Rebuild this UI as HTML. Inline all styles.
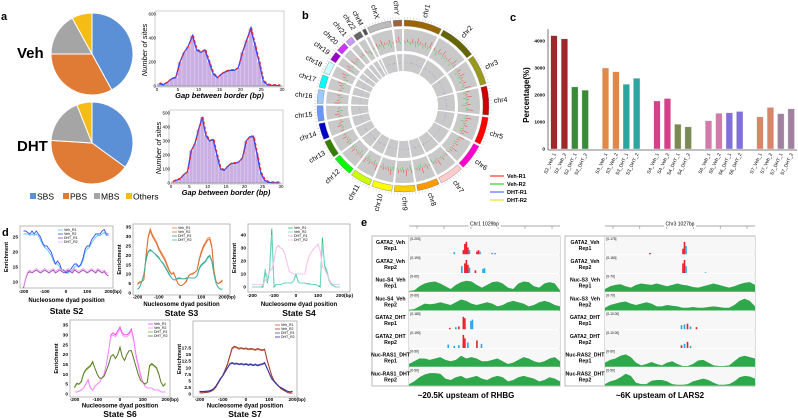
<!DOCTYPE html>
<html><head><meta charset="utf-8"><style>
html,body{margin:0;padding:0;background:#fff;width:798px;height:418px;overflow:hidden}
svg{display:block;font-family:"Liberation Sans",Arial,sans-serif}
</style></head><body>
<svg id="fig" width="798" height="418" viewBox="0 0 798 418">
<g font-weight="bold" font-size="11">
<text x="1" y="20">a</text>
<text x="302" y="19">b</text>
<text x="510" y="21">c</text>
<text x="2" y="236">d</text>
<text x="361" y="226">e</text>
</g>
<text x="17" y="58" font-size="15" font-weight="bold">Veh</text>
<text x="17" y="151" font-size="15" font-weight="bold">DHT</text>
</svg>
<script>
// ---------- DATA ----------
const pieCats=['SBS','PBS','MBS','Others'];
const pieColors=['#5b8fd6','#e07b35','#a5a5a5','#f5bc16'];
const pieVeh=[42,33,17,8];
const pieDHT=[35,41,18,6];
const histVeh=[20,10,30,60,70,200,280,330,420,300,280,300,200,100,70,100,120,130,130,150,280,380,480,340,200,40,10,5,5,2];
const histDHT=[10,20,30,60,80,230,280,380,470,340,300,310,200,100,90,120,140,140,150,180,300,330,330,200,70,20,5,2,2,1];
const histVehTicks=[0,200,400,600];
const histDHTTicks=[0,100,200,300,400,500];
const histXTicks=[0,5,10,15,20,25,30];
const chrNames=['chr1','chr2','chr3','chr4','chr5','chr6','chr7','chr8','chr9','chr10','chr11','chr12','chr13','chr14','chr15','chr16','chr17','chr18','chr19','chr20','chr21','chr22','chrM','chrX','chrY'];
const chrSizes=[249,242,198,190,181,171,159,145,138,134,135,133,114,107,102,90,83,80,59,64,47,51,22,156,57];
const chrColors=['#996600','#666600','#99991e','#cc0000','#ff0000','#ff00cc','#ffcccc','#ff9900','#ffcc00','#ffff00','#ccff00','#00ff00','#358000','#0000cc','#6699ff','#99ccff','#00ffff','#ccffff','#9900cc','#cc33ff','#cc99ff','#666666','#555555','#bbbbbb','#99663f'];
const spikeR1=[3,6,2,9,4,12,5,3,8,2,14,6,4,7,3,10,5,2,6,11];
const spikeR2=[4,2,7,3,10,5,2,8,4,6,3,9,2,5,12,4,3,7,5,2];
const cCats=['S2_Veh_1','S2_Veh_2','S2_DHT_1','S2_DHT_2','S3_Veh_1','S3_Veh_2','S3_DHT_1','S3_DHT_2','S4_Veh_1','S4_Veh_2','S4_DHT_1','S4_DHT_2','S6_Veh_1','S6_Veh_2','S6_DHT_1','S6_DHT_2','S7_Veh_1','S7_Veh_2','S7_DHT_1','S7_DHT_2'];
const cVals=[4200,4080,2300,2180,3000,2860,2400,2620,1780,1870,920,820,1050,1320,1340,1390,1190,1540,1310,1490];
const cColors=['#a0282d','#a0282d','#3a8a3a','#3a8a3a','#e0884a','#e0884a','#2aa5a0','#2aa5a0','#d4418a','#d4418a','#7a8a55','#7a8a55','#d47aaa','#d47aaa','#8070d8','#8070d8','#d8866a','#d8866a','#a081a0','#a081a0'];
const cTicks=[0,1000,2000,3000,4000];
const dPos=[-200,-190,-180,-170,-160,-150,-140,-130,-120,-110,-100,-90,-80,-70,-60,-50,-40,-30,-20,-10,0,10,20,30,40,50,60,70,80,90,100,110,120,130,140,150,160,170,180,190,200];
const s2Veh1=[27,27,26.5,26,27,26,27,26,25,23,22,22,21,20,18,16,17,16,14,14,13,13.5,14,15,16,16,15,16,18,21,22,22,24,25,26,26,26,27,27.5,26,26];
const s2Veh2=[26,26,26,25.5,26,25.5,26,25.5,24,22.5,21.5,21,20,19,17,16,16,15,14,13.5,13,13,13.5,14,15,15.5,15,15.5,17,20,21,21.5,23,24,25,25.5,25.5,26,26.5,25.5,25.5];
const s2DHT1=[8,11,13,13.5,13,13.5,14,13.5,13,13.5,14,13.5,13,13.5,14,13,13.5,14,13.5,13,13.5,14,13.5,13,14,13.5,13,13.5,14,13.5,13,13.5,14,13.5,13,14,13.5,13,13.5,12.5,12];
const s2DHT2=[8.5,11.5,13.5,14,13.5,14,14.5,14,13.5,14,14.5,14,13.5,14,14.5,13.5,14,14.5,14,13.5,14,14.5,14,13.5,14.5,14,13.5,14,14.5,14,13.5,14,14.5,14,13.5,14.5,14,13.5,14,13,13];
const s3Veh1=[5,6,6,7,20,30,34,31,29,27,24,22,20,18,15,12,10,11,8,5,4,4,5,6,9,10,10,11,12,18,22,25,27,29,29.5,25,12,6,5,6,7];
const s3Veh2=[4.5,5.5,6,7,19,29,33,30,28,26,23,21,19,17,14,11.5,10,10.5,8,5,4,4,5,6.5,9,10,10.5,11,12,17,21,24,26,28,28.5,24,11,6,5,5.5,6.5];
const s3DHT1=[2,3,6,10,18,22,23,22,21,20,19,17,16,14,12,10,8,7,7,8,8,7.5,7.5,8,8,8,8,8,9,13,15,16,17,19,20,17,10,5,3,2,2];
const s3DHT2=[2,3,6,10,17,21.5,22.5,22,21,19.5,18.5,17,15.5,13.5,11.5,9.5,8,7,7,7.5,7.5,7.5,7.5,7.5,8,8,8,8,9,12.5,14.5,15.5,16.5,18.5,19.5,16.5,10,5,3,2,2];
const s4Veh1=[0,0,0,0,0,0,12,3,14,45,0,2,2,2,2.5,3,3,3,3,5,10,4,3,3,3,2.5,2.5,2,2,2,1,0,38,16,12,5,2,1,0,0,0];
const s4Veh2=[0,0,0,0,0,1,14,4,12,40,1,2,2,2,2.5,3,3,3,3,5,9,4,3,3,3,2.5,2.5,2,2,2,1,1,34,17,13,6,2,1,0,0,0];
const s4DHT1=[2,2,2,2,2,2,5,8,12,14,20,30,32,30,29,25,18,12,11,10,10,10,10,10,10,18,24,27,29,31,33,28,15,14,10,6,3,2,2,2,2];
const s4DHT2=[2,2,2,2,2,2,5,8,12,14,20,30,31.5,30,29,25,18,12,11,10,10,10,10,10,10,18,24,27,29,31,32.5,28,15,14,10,6,3,2,2,2,2];
const s6Veh1=[1,1,1.5,2,3,5,7,3,2,4,5,6,8,10,15,22,30,31,30,32,34,31,30,30,31,33,28,20,15,10,6,4,3,3,3,2,2,2,1,1,1];
const s6Veh2=[1,1,1.5,2,3,5,7.5,3,2,4,5,6,8,10,15,22,29,30,29,31,33,30,29,29,30,32,27,19,14,9,6,4,3,3,3,2,2,2,1,1,1];
const s6DHT1=[3,5,5,6,10,12,13,14,16,13,10,8,8,9,12,15,19,20,18,20,24,19,17,20,22,22,18,14,10,7,6,5,6,14,15,14,13,10,6,4,5];
const s6DHT2=[3.5,5.5,5,6.5,10.5,12.5,13.5,14.5,16.5,13,10,8,8,9,12,15,19,20,18,20,23.5,19,17,20,22,22,18,14,10,7,6,5,6,14.5,15.5,14.5,13.5,10.5,6,4,5.5];
const s7Veh1=[0.5,0.5,0.5,0.6,0.7,1,1.5,2.5,4,5.5,7,9,11,14,17,17.8,17.5,17,17.3,17,17.2,16.8,17,16.9,16.6,17,16.7,16.5,16.8,13,10,7,5,4,3,2,1.5,1,0.5,0.3,0.3];
const s7Veh2=[0.4,0.4,0.5,0.6,0.8,1.1,1.6,2.6,4.1,5.6,7.2,9.2,11.5,14.5,17.5,18.2,17.8,17.4,17.6,17.3,17.5,17.1,17.3,17.2,16.9,17.3,17,16.8,17.1,13.3,10.2,7.2,5.2,4.1,3.1,2.1,1.5,1,0.6,0.4,0.4];
const s7DHT1=[1,1,1,1.1,1.2,1.5,2,3,4.5,6,7,8.5,10,11.5,12,11.6,11.8,11.4,11.7,11.3,11.6,11.2,11.5,11.1,11.4,11,11.3,11.5,12,10,8,6,5,4,3,2.5,2,1.5,1,0.8,1];
const s7DHT2=[0.9,0.9,0.9,1,1.1,1.4,1.9,2.9,4.3,5.8,6.8,8.3,9.8,11.2,11.7,11.3,11.5,11.1,11.4,11,11.3,10.9,11.2,10.8,11.1,10.7,11,11.2,11.7,9.8,7.8,5.8,4.8,3.8,2.9,2.4,1.9,1.4,1,0.8,1.1];
const dXTicks=[-200,-100,0,100,200];
const eLeftNames=[['GATA2_Veh','Rep1'],['GATA2_Veh','Rep2'],['Nuc-S4_Veh','Rep1'],['Nuc-S4_Veh','Rep2'],['GATA2_DHT','Rep1'],['GATA2_DHT','Rep2'],['Nuc-RAS1_DHT','Rep1'],['Nuc-RAS1_DHT','Rep2']];
const eRightNames=[['GATA2_Veh','Rep1'],['GATA2_Veh','Rep2'],['Nuc-S3_Veh','Rep1'],['Nuc-S3_Veh','Rep2'],['GATA2_DHT','Rep1'],['GATA2_DHT','Rep2'],['Nuc-RAS2_DHT','Rep1'],['Nuc-RAS2_DHT','Rep2']];
const eLeftRanges=['[0-200]','[0-190]','[0-60]','[0-60]','[0-180]','[0-190]','[0-50]','[0-50]'];
const eRightRanges=['[0-175]','[0-160]','[0-70]','[0-70]','[0-10.00]','[0-10.00]','[0-60]','[0-50]'];
const L_nuc1=[0.05,0.1,0.4,0.6,0.7,0.75,0.6,0.4,0.2,0.5,0.7,0.8,0.75,0.5,0.3,0.5,0.7,0.75,0.6,0.3,0.2,0.6,0.75,0.7,0.4,0.3,0.6,0.7,0.6,0.1];
const L_nuc2=[0.05,0.1,0.3,0.5,0.45,0.5,0.6,0.5,0.4,0.6,0.8,0.7,0.5,0.4,0.5,0.6,0.5,0.3,0.4,0.6,0.7,0.6,0.5,0.3,0.4,0.6,0.7,0.6,0.4,0.3];
const L_ras1=[0.2,0.4,0.6,0.6,0.5,0.6,0.7,0.5,0.4,0.5,0.8,0.6,0.7,0.6,0.4,0.4,0.5,0.6,0.4,0.2,0.3,0.5,0.7,0.6,0.4,0.3,0.4,0.6,0.7,0.4];
const L_ras2=[0.1,0.3,0.6,0.8,0.9,0.9,0.85,0.5,0.4,0.6,0.7,0.5,0.6,0.7,0.5,0.4,0.6,0.7,0.6,0.3,0.4,0.6,0.7,0.6,0.5,0.3,0.4,0.6,0.5,0.3];
const R_nuc1=[0.2,0.4,0.5,0.55,0.4,0.3,0.5,0.6,0.55,0.5,0.6,0.5,0.4,0.5,0.6,0.5,0.45,0.35,0.3,0.4,0.5,0.6,0.5,0.4,0.3,0.4,0.55,0.65,0.7,0.5];
const R_nuc2=[0.2,0.4,0.5,0.6,0.65,0.5,0.4,0.5,0.6,0.5,0.3,0.3,0.4,0.35,0.3,0.2,0.2,0.25,0.2,0.2,0.25,0.3,0.25,0.2,0.2,0.4,0.7,0.85,0.7,0.3];
const R_ras1=[0.3,0.5,0.6,0.8,0.9,0.7,0.3,0.1,0.2,0.35,0.2,0.1,0.3,0.4,0.2,0.05,0.05,0.2,0.45,0.5,0.3,0.1,0.05,0.05,0.1,0.4,0.7,0.8,0.7,0.6];
const R_ras2=[0.1,0.3,0.4,0.6,0.85,0.7,0.2,0.1,0.1,0.35,0.4,0.4,0.3,0.1,0.05,0.05,0.1,0.3,0.4,0.5,0.4,0.2,0.05,0.05,0.1,0.3,0.6,0.7,0.65,0.5];
const LpkV1=[[0.3,0.15,'b'],[0.36,0.3,'r'],[0.37,0.75,'r'],[0.38,0.9,'r'],[0.39,0.5,'r'],[0.4,0.3,'b'],[0.45,0.2,'r'],[0.46,0.3,'r'],[0.47,0.2,'b'],[0.55,0.1,'b'],[0.57,0.1,'b']];
const LpkV2=[[0.35,0.5,'b'],[0.37,0.7,'r'],[0.38,0.95,'r'],[0.39,0.6,'r'],[0.4,0.4,'b'],[0.44,0.2,'r'],[0.49,0.3,'b'],[0.5,0.35,'b']];
const LpkD1=[[0.27,0.1,'r'],[0.31,0.15,'b'],[0.33,0.2,'r'],[0.36,0.9,'r'],[0.37,0.8,'r'],[0.41,0.6,'b'],[0.42,0.7,'b']];
const LpkD2=[[0.26,0.25,'b'],[0.3,0.15,'b'],[0.33,0.2,'b'],[0.36,0.95,'r'],[0.37,0.7,'r'],[0.39,0.4,'b'],[0.45,0.55,'r'],[0.48,0.3,'b']];
const RpkV1=[[0.3,0.1,'r'],[0.52,0.4,'r'],[0.53,0.9,'r'],[0.54,0.6,'b']];
const RpkV2=[[0.52,0.7,'r'],[0.53,0.95,'r'],[0.54,0.5,'b'],[0.67,0.05,'b']];
const RpkD1=[[0.51,0.3,'b'],[0.53,0.35,'b'],[0.55,0.4,'r'],[0.57,0.2,'b'],[0.61,0.15,'r']];
const RpkD2=[[0.51,0.2,'r'],[0.53,0.3,'b'],[0.55,0.45,'r'],[0.57,0.15,'b']];

// ---------- HELPERS ----------
const NS='http://www.w3.org/2000/svg';
const svg=document.getElementById('fig');
function mk(tag,attrs,parent){const e=document.createElementNS(NS,tag);for(const k in attrs)e.setAttribute(k,attrs[k]);(parent||svg).appendChild(e);return e;}
function txt(x,y,s,attrs,parent){const e=mk('text',Object.assign({x:x,y:y},attrs||{}),parent);e.textContent=s;return e;}
function pt(cx,cy,r,a){return [cx+r*Math.sin(a),cy-r*Math.cos(a)];}
function arc(cx,cy,r0,r1,a0,a1){const l=(a1-a0)>Math.PI?1:0;const p1=pt(cx,cy,r1,a0),p2=pt(cx,cy,r1,a1),p3=pt(cx,cy,r0,a1),p4=pt(cx,cy,r0,a0);
 if(r0<=0)return `M${cx},${cy}L${p1}A${r1},${r1} 0 ${l} 1 ${p2}Z`;
 return `M${p1}A${r1},${r1} 0 ${l} 1 ${p2}L${p3}A${r0},${r0} 0 ${l} 0 ${p4}Z`;}

// ---------- PANEL A: pies ----------
function pie(cx,cy,r,vals,name){const g=mk('g',{});
 
 
 const tot=vals.reduce((a,b)=>a+b,0);let a=0;
 vals.forEach((v,i)=>{const a1=a+v/tot*2*Math.PI;const p=mk('path',{d:arc(cx,cy,0,r,a,a1),fill:pieColors[i],stroke:'#fff','stroke-width':1},g);
  
  
  a=a1;});}
pie(92,54,41,pieVeh,'veh-pie');
pie(92,143,41,pieDHT,'dht-pie');
const lg=mk('g',{});


[30,63,94,126].forEach((x,i)=>{mk('rect',{x:x,y:193,width:6,height:6,fill:pieColors[i]},lg);const t=txt(x+7,199.5,pieCats[i],{'font-size':8.5},lg);
 
 });

// ---------- PANEL A: histograms ----------
function hist(vals,ticks,x0,x1,y0,ymax,ytop,name){const g=mk('g',{});
 
 
 const xs=v=>x0+(x1-x0)*v/30, ys=v=>y0-(y0-ytop)*v/ymax;
 mk('rect',{x:x0-2,y:ytop-3,width:x1-x0+4,height:y0-ytop+4,fill:'none',stroke:'#bbb','stroke-width':0.7},g);
 vals.forEach((v,i)=>{const b=mk('rect',{x:xs(i),y:ys(v),width:xs(1)-xs(0),height:y0-ys(v),fill:'#c9afe3',stroke:'#e6dcef','stroke-width':0.4},g);
  
  });
 let d='';vals.forEach((v,i)=>{d+=(i?'L':'M')+xs(i+0.5)+','+ys(v);});
 const bl=mk('path',{d:d,fill:'none',stroke:'#2e4bff','stroke-width':1.3},g);
 
 
 const rl=mk('path',{d:d,fill:'none',stroke:'#ff2020','stroke-width':1,'stroke-dasharray':'3,2',transform:'translate(0.6,-0.8)'},g);
 
 
 mk('line',{x1:x0,y1:y0,x2:x1,y2:y0,stroke:'#666','stroke-width':0.5},g);
 ticks.forEach(t=>{txt(x0-1,ys(t)+1.5,String(t),{'font-size':4.5,'text-anchor':'end'},g);});
 histXTicks.forEach(t=>{txt(xs(t),y0+5,String(t),{'font-size':4.5,'text-anchor':'middle'},g);});
 txt(x0+(x1-x0)/2,y0+12,'Gap between border (bp)',{'font-size':7.5,'font-style':'italic','font-weight':'bold','text-anchor':'middle'},g);
 txt(0,0,'Number of sites',{'font-size':7.5,'font-style':'italic','text-anchor':'middle',transform:`translate(${x0-10},${(y0+ytop)/2}) rotate(-90)`},g);}
hist(histVeh,histVehTicks,157,282,86,600,14,'veh-histogram');
hist(histDHT,histDHTTicks,171,281,183,500,113,'dht-histogram');

// ---------- PANEL B: circos ----------
(function(){const cx=403,cy=106;const g=mk('g',{});
 
 
 const gap=1.6*Math.PI/180;const tot=chrSizes.reduce((a,b)=>a+b,0);const avail=2*Math.PI-gap*chrSizes.length;
 let a=gap/2;
 chrSizes.forEach((s,i)=>{const a1=a+s/tot*avail;
  const c=mk('path',{d:arc(cx,cy,80,86,a,a1),fill:chrColors[i],stroke:'#777','stroke-width':0.4},g);
  
  
  mk('path',{d:arc(cx,cy,55,77,a,a1),fill:'#c9c9c9'},g);
  mk('path',{d:arc(cx,cy,35,52,a,a1),fill:'#c9c9c9'},g);
  for(let t=a;t<a1;t+=0.035){const p1=pt(cx,cy,87,t),p2=pt(cx,cy,89,t);mk('line',{x1:p1[0],y1:p1[1],x2:p2[0],y2:p2[1],stroke:'#999','stroke-width':0.3},g);}
  let k=0;for(let t=a+0.015;t<a1-0.01;t+=0.04){const h1=spikeR1[(k+i)%20]*0.45,h2=spikeR2[(k+i*3)%20]*0.4;
   let p1=pt(cx,cy,64,t),p2=pt(cx,cy,64+h1,t);mk('line',{x1:p1[0],y1:p1[1],x2:p2[0],y2:p2[1],stroke:'#ff3030','stroke-width':0.5},g);
   p1=pt(cx,cy,64,t+0.015);p2=pt(cx,cy,64-h2,t+0.015);mk('line',{x1:p1[0],y1:p1[1],x2:p2[0],y2:p2[1],stroke:'#30d030','stroke-width':0.5},g);
   p1=pt(cx,cy,43,t);p2=pt(cx,cy,43+h2*0.2,t);mk('line',{x1:p1[0],y1:p1[1],x2:p2[0],y2:p2[1],stroke:'#6a7aff','stroke-width':0.6},g);
   k++;}
  const m=(a+a1)/2;const deg=m*180/Math.PI;const p=pt(cx,cy,91,m);
  let tr,anchor;if(deg<180){tr=`translate(${p[0]},${p[1]}) rotate(${deg-90})`;anchor='start';}else{tr=`translate(${p[0]},${p[1]}) rotate(${deg+90})`;anchor='end';}
  const lbl=txt(0,2.5,chrNames[i],{'font-size':7,'text-anchor':anchor,transform:tr},g);
  
  
  a=a1+gap;});
 const leg=[['Veh-R1','#ff3030'],['Veh-R2','#30d030'],['DHT-R1','#5a6aff'],['DHT-R2','#f0e020']];
 leg.forEach((l,i)=>{const y=176+i*8;mk('line',{x1:490,y1:y,x2:504,y2:y,stroke:l[1],'stroke-width':1.2},g);
  const t=txt(507,y+2,l[0],{'font-size':5.5,'font-weight':'bold'},g);
  
  });})();

// ---------- PANEL C: bar chart ----------
(function(){const g=mk('g',{});
 
 
 const y0=149,k=27/1000;const ys=v=>y0-v*k;const xs=i=>554+Math.floor(i/4)*51.5+(i%4)*10.4;
 cVals.forEach((v,i)=>{const b=mk('rect',{x:xs(i)-3.3,y:ys(v),width:6.6,height:v*k,fill:cColors[i],stroke:'#eee','stroke-width':0.4},g);
  
  
  txt(0,0,cCats[i],{'font-size':4.8,'text-anchor':'end',transform:`translate(${xs(i)+2},${y0+5}) rotate(-65)`},g);});
 mk('line',{x1:548,y1:29,x2:548,y2:y0+1,stroke:'#555','stroke-width':0.8},g);
 mk('line',{x1:548,y1:y0+1,x2:797,y2:y0+1,stroke:'#555','stroke-width':0.8},g);
 cTicks.forEach(t=>{txt(545,ys(t)+1.7,String(t),{'font-size':4.8,'font-weight':'bold','text-anchor':'end'},g);});
 const yl=txt(0,0,'Percentage(%)',{'font-size':8,'font-weight':'bold','text-anchor':'middle',transform:'translate(529,95) rotate(-90)'},g);
 
 })();

// ---------- PANEL D: profiles ----------
function prof(cfg){const g=mk('g',{});
 
 
 const xs=v=>cfg.x0+v*cfg.kx, ys=v=>cfg.y0-v*cfg.ky;
 const o=cfg.off||[5,11,22];
 mk('rect',{x:cfg.fx,y:cfg.fy,width:cfg.fw,height:cfg.fh,fill:'#fff',stroke:'#aaa','stroke-width':0.8},g);
 cfg.series.forEach((s,si)=>{let d='';s.vals.forEach((v,i)=>{d+=(i?'L':'M')+xs(dPos[i]).toFixed(2)+','+ys(v).toFixed(2);});
  const p=mk('path',{d:d,fill:'none',stroke:s.c,'stroke-width':0.9},g);
  
  
  const ly=cfg.fy+4+si*4;mk('line',{x1:cfg.lx,y1:ly,x2:cfg.lx+5,y2:ly,stroke:s.c,'stroke-width':0.8},g);
  txt(cfg.lx+6,ly+1.2,s.n,{'font-size':3.5},g);});
 cfg.yt.forEach(t=>{txt(cfg.fx-2,ys(t)+1.6,String(t),{'font-size':4.8,'font-weight':'bold','text-anchor':'end'},g);});
 dXTicks.forEach(t=>{txt(xs(t),cfg.fy+cfg.fh+o[0],t===200?'200(bp)':String(t),{'font-size':4.8,'font-weight':'bold','text-anchor':t===200?'start':'middle',dx:t===200?-4:0},g);});
 txt(cfg.fx+cfg.fw/2,cfg.fy+cfg.fh+o[1],'Nucleosome dyad position',{'font-size':6,'font-weight':'bold','text-anchor':'middle'},g);
 txt(0,0,'Enrichment',{'font-size':5.5,'font-weight':'bold','text-anchor':'middle',transform:`translate(${cfg.fx-12},${cfg.fy+cfg.fh/2}) rotate(-90)`},g);
 const t=txt(cfg.fx+cfg.fw/2,cfg.fy+cfg.fh+o[2],cfg.title,{'font-size':8.5,'font-weight':'bold','text-anchor':'middle'},g);
 
 }
prof({title:'State S2',fx:20,fy:226,fw:93,fh:62,x0:66,kx:0.2125,y0:312,ky:3,yt:[10,15,20,25],lx:58,off:[5,14,26],
 series:[{n:'Veh_R1',c:'#5ac8f5',vals:s2Veh2},{n:'Veh_R2',c:'#3a4cf0',vals:s2Veh1},{n:'DHT_R1',c:'#a040c0',vals:s2DHT1},{n:'DHT_R2',c:'#f0a8f0',vals:s2DHT2}]});
prof({title:'State S3',fx:133,fy:224,fw:97,fh:71,x0:180,kx:0.2125,y0:293,ky:1.886,yt:[0,5,10,15,20,25,30,35],lx:172,off:[3.5,11,21],
 series:[{n:'Veh_R1',c:'#f07a35',vals:s3Veh1},{n:'Veh_R2',c:'#e06a30',vals:s3Veh2},{n:'DHT_R1',c:'#2a9a8a',vals:s3DHT1},{n:'DHT_R2',c:'#45b5a5',vals:s3DHT2}]});
prof({title:'State S4',fx:248,fy:224,fw:102,fh:68,x0:296,kx:0.22,y0:287,ky:1.3,yt:[0,10,20,30,40],lx:288,off:[5,14,24],
 series:[{n:'Veh_R1',c:'#30c070',vals:s4Veh1},{n:'Veh_R2',c:'#70d8c8',vals:s4Veh2},{n:'DHT_R1',c:'#f0a0e0',vals:s4DHT1},{n:'DHT_R2',c:'#f8c8ee',vals:s4DHT2}]});
prof({title:'State S6',fx:70,fy:320,fw:100,fh:77,x0:120,kx:0.2275,y0:394,ky:1.971,yt:[0,5,10,15,20,25,30,35],lx:148,off:[4,10.5,20],
 series:[{n:'Veh_R1',c:'#ff40ff',vals:s6Veh1},{n:'Veh_R2',c:'#ff90ff',vals:s6Veh2},{n:'DHT_R1',c:'#80b040',vals:s6DHT1},{n:'DHT_R2',c:'#5a7a28',vals:s6DHT2}]});
prof({title:'State S7',fx:193,fy:321,fw:104,fh:76,x0:246,kx:0.2325,y0:394,ky:2.63,yt:[0,2.5,5,7.5,10,12.5,15,17.5],lx:275,off:[4,10.5,20],
 series:[{n:'Veh_R1',c:'#c85a40',vals:s7Veh1},{n:'Veh_R2',c:'#a04030',vals:s7Veh2},{n:'DHT_R1',c:'#5050c0',vals:s7DHT1},{n:'DHT_R2',c:'#3030a0',vals:s7DHT2}]});

// ---------- PANEL E: genome tracks ----------
function tracks(lx,tx,tx1,names,ranges,rows,title,caption,name){const g=mk('g',{});
 
 
 const top=236,rh=18.75,w=tx1-tx;
 mk('rect',{x:lx,y:top,width:tx1-lx,height:rh*8,fill:'#fff',stroke:'#aaa','stroke-width':0.8},g);
 mk('line',{x1:tx,y1:top,x2:tx,y2:top+rh*8,stroke:'#aaa','stroke-width':0.8},g);
 mk('line',{x1:tx,y1:226,x2:tx1,y2:226,stroke:'#555','stroke-width':0.5},g);
 for(let i=0;i<=5;i++){const x=tx+8+i*(w-16)/5;mk('line',{x1:x,y1:226,x2:x,y2:229,stroke:'#555','stroke-width':0.4},g);}
 mk('rect',{x:tx+w/2-16,y:221,width:32,height:6,fill:'#fff'},g);
 txt(tx+w/2,225.5,title,{'font-size':5,'text-anchor':'middle'},g);
 rows.forEach((r,i)=>{const y=top+i*rh;
  mk('rect',{x:tx,y:y+0.5,width:w,height:rh-1,fill:'#f7f7f7'},g);
  const l1=txt((lx+tx)/2,y+8,names[i][0],{'font-size':5.2,'font-weight':'bold','text-anchor':'middle'},g);
  
  
  txt((lx+tx)/2,y+14,names[i][1],{'font-size':5.2,'font-weight':'bold','text-anchor':'middle'},g);
  txt(tx+1.5,y+4,ranges[i],{'font-size':3.2},g);
  const base=y+rh-0.5;
  if(r.type==='area'){let d=`M${tx},${base}`;r.vals.forEach((v,j)=>{d+=`L${(tx+j*w/(r.vals.length-1)).toFixed(2)},${(base-v*(rh-5)).toFixed(2)}`;});d+=`L${tx1},${base}Z`;
   const p=mk('path',{d:d,fill:'#2ea84a'},g);
   
   }
  else{r.vals.forEach(pk=>{const h=pk[1]*(rh-5);const b=mk('rect',{x:tx+pk[0]*w-0.8,y:base-h,width:1.6,height:h,fill:pk[2]==='r'?'#e8202a':'#2aa6ea'},g);
   
   });}});
 const c=txt((lx+tx1)/2,398,caption,{'font-size':8,'font-weight':'bold','text-anchor':'middle'},g);
 
 }
tracks(372,409,560,eLeftNames,eLeftRanges,[{type:'peak',vals:LpkV1},{type:'peak',vals:LpkV2},{type:'area',vals:L_nuc1},{type:'area',vals:L_nuc2},{type:'peak',vals:LpkD1},{type:'peak',vals:LpkD2},{type:'area',vals:L_ras1},{type:'area',vals:L_ras2}],'Chr1 1029bp','~20.5K upsteam of RHBG','rhbg-tracks');
tracks(565,605,755,eRightNames,eRightRanges,[{type:'peak',vals:RpkV1},{type:'peak',vals:RpkV2},{type:'area',vals:R_nuc1},{type:'area',vals:R_nuc2},{type:'peak',vals:RpkD1},{type:'peak',vals:RpkD2},{type:'area',vals:R_ras1},{type:'area',vals:R_ras2}],'Chr3 1027bp','~6K upsteam of LARS2','lars2-tracks');
</script>
</body></html>
